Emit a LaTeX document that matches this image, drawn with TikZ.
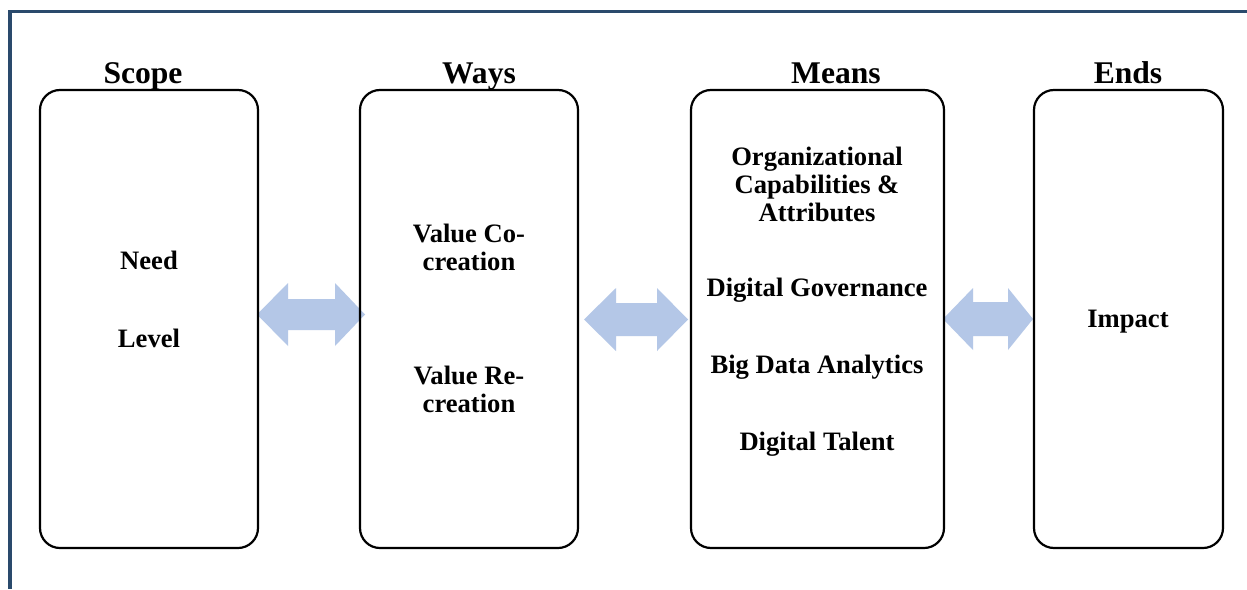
\documentclass[tikz,border=0pt]{standalone}
\usepackage{fontspec}
\setmainfont{Liberation Serif}
\begin{document}
% double-headed block arrow: x-left, x-right, y-centre, head half-height,
% shaft half-height, left head length, right head length
\newcommand\blockarrow[7]{%
  \fill[linkfill] (#1,#3) -- (#1+#6,#3-#4) -- (#1+#6,#3-#5) -- (#2-#7,#3-#5)
    -- (#2-#7,#3-#4) -- (#2,#3) -- (#2-#7,#3+#4) -- (#2-#7,#3+#5)
    -- (#1+#6,#3+#5) -- (#1+#6,#3+#4) -- cycle;}
\begin{tikzpicture}[x=1pt,y=-1pt,
  frame/.style={draw=framecol,line width=3.5pt},
  panel/.style={draw=black,line width=2.2pt,rounded corners=20pt,inner sep=0pt},
  heading/.style={font=\fontsize{31.6}{33}\selectfont\bfseries,anchor=base,inner sep=0pt},
  item/.style={font=\fontsize{26.6}{28}\selectfont\bfseries,anchor=base,inner sep=0pt,align=center},
  linkfill/.style={fill=arrowcol}]
\definecolor{framecol}{HTML}{2A4A6C}
\definecolor{arrowcol}{HTML}{B4C7E7}
\useasboundingbox (0,0) rectangle (1247,589);
\fill[white] (0,0) rectangle (1247,589);

% outer frame, top and left sides only
\draw[frame,line join=miter] (1247,11.5) -- (10,11.5) -- (10,589);

% connecting arrows (under the panel outlines)
\blockarrow{257}{365}{314.5}{31.5}{15.5}{31}{30}
\blockarrow{584}{688}{319.5}{31.5}{16.5}{32}{31}
\blockarrow{943}{1033}{319}{31}{17}{30}{25}

% panels
\node[panel,minimum width=218pt,minimum height=458pt] (scope) at (149,319) {};
\node[panel,minimum width=218pt,minimum height=458pt] (ways) at (469,319) {};
\node[panel,minimum width=253pt,minimum height=458pt] (means) at (817.5,319) {};
\node[panel,minimum width=189pt,minimum height=458pt] (ends) at (1128.5,319) {};

% headings
\node[heading] (hscope) at (143,83) {Scope};
\node[heading] (hways) at (479,83) {Ways};
\node[heading] (hmeans) at (836,83) {Means};
\node[heading] (hends) at (1128,83) {Ends};

% panel contents (multi-line nodes are placed by their last baseline)
\node[item] (need) at (149,269) {Need};
\node[item] (level) at (149,347) {Level};

\node[item] (coc) at (469,270) {Value Co-\\creation};
\node[item] (rec) at (469,412) {Value Re-\\creation};

\node[item] (orgcap) at (817,221) {Organizational\\Capabilities \&\\Attributes};
\node[item] (gov) at (817,296) {Digital Governance};
\node[item] (bda) at (817,373) {Big Data Analytics};
\node[item] (tal) at (817,450) {Digital Talent};

\node[item] (impact) at (1128,327) {Impact};
\end{tikzpicture}
\end{document}
